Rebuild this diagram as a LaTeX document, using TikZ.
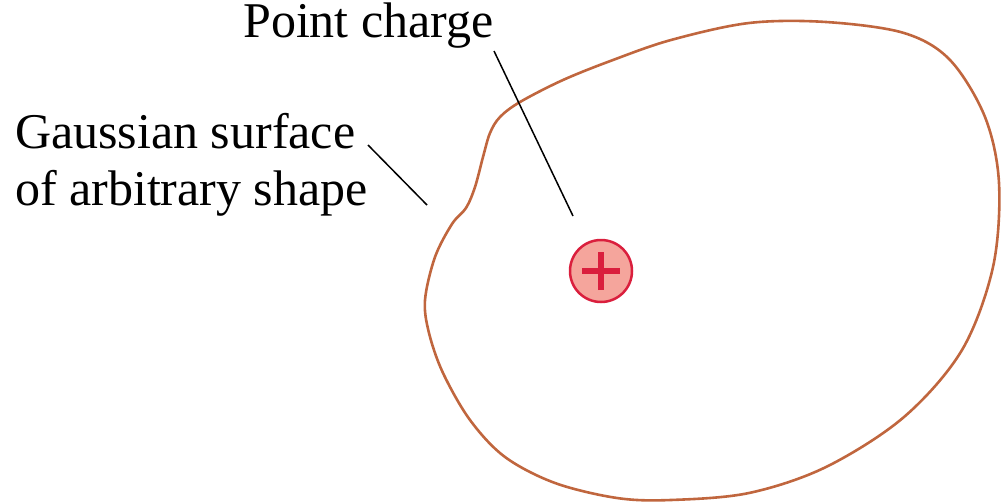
\documentclass[tikz,border=0pt]{standalone}
\usepackage{fontspec}
\setmainfont{Liberation Serif}
\definecolor{surf}{HTML}{C0663E}
\definecolor{chargefill}{HTML}{F5A59C}
\definecolor{chargeline}{HTML}{DA1F3D}
\tikzset{
  surface/.style={draw=surf, line width=2.6pt, line join=round},
  leader/.style={draw=black, line width=1.5pt},
  label/.style={inner sep=0pt, font=\fontsize{50}{58}\selectfont},
  chargenode/.style={circle, minimum size=62pt, inner sep=0pt, fill=chargefill, draw=chargeline, line width=2.5pt},
  plusline/.style={draw=chargeline, line width=6.5pt}
}
\begin{document}
\begin{tikzpicture}[x=1pt,y=-1pt]
\useasboundingbox (0,0) rectangle (1004,503);
% Gaussian surface
\draw[surface] plot[smooth cycle, tension=0.55] coordinates {
 (520,102) (500,117) (490,133) (483,157) (475,187) (466,208) (452,224) (435,257)
 (425,300) (429,333) (443,373) (470,420) (505,457) (555,483) (617,498)
 (671,500) (749,493) (826,467) (904,417) (962,350) (993,267) (999,183)
 (985,117) (950,60) (904,33) (826,22) (749,23) (671,40) (613,60)
 (563,80)};
% charge
\node[chargenode] (charge) at (601,271) {};
\draw[plusline] ([xshift=-19pt]charge.center) -- ([xshift=19pt]charge.center);
\draw[plusline] ([yshift=-19pt]charge.center) -- ([yshift=19pt]charge.center);
% labels
\node[label, anchor=base west] (pc) at (243,38) {Point charge};
\node[label, anchor=base west] (gs1) at (15,148) {Gaussian surface};
\node[label, anchor=base west] (gs2) at (15,205) {of arbitrary shape};
% leaders
\coordinate (pcstart) at (494,51);
\coordinate (pcend) at (573,216);
\coordinate (gsstart) at (368,145);
\coordinate (gsend) at (427,205);
\draw[leader] (pcstart) -- (pcend);
\draw[leader] (gsstart) -- (gsend);
\end{tikzpicture}
\end{document}
